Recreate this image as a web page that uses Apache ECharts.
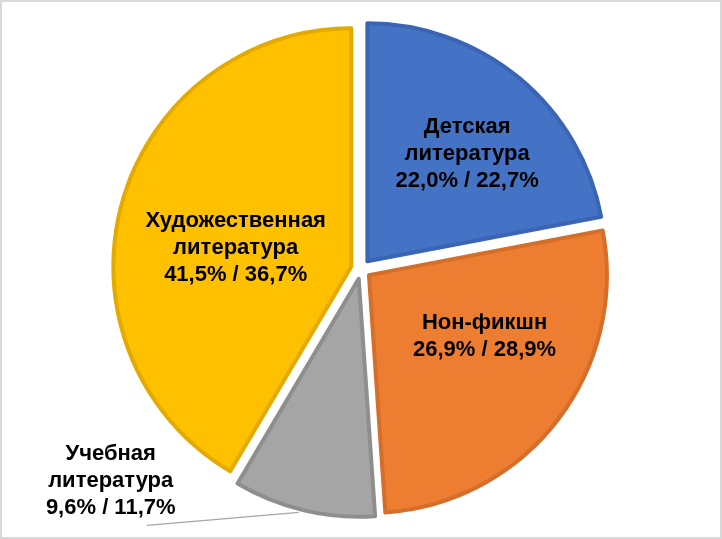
<!DOCTYPE html>
<html>
<head>
<meta charset="utf-8">
<script src="https://cdn.jsdelivr.net/npm/echarts@6/dist/echarts.min.js"></script>
<style>
html,body{margin:0;padding:0;background:#fff;}
#chart{width:722px;height:539px;}
</style>
</head>
<body>
<div id="chart"></div>
<script>
// Data
var categories = ['Детская литература', 'Нон-фикшн', 'Учебная литература', 'Художественная литература'];
var labelNames = ['Детская\nлитература', 'Нон-фикшн', 'Учебная\nлитература', 'Художественная\nлитература'];
var shareA = [22.0, 26.9, 9.6, 41.5];
var shareB = [22.7, 28.9, 11.7, 36.7];

// Styles
var fillColors = ['#4472C4', '#ED7D31', '#A5A5A5', '#FFC000'];
var borderColors = ['#3A65B4', '#D56E28', '#8E8E8E', '#E3AA00'];
var insidePadding = [[0, 0, 0, 44], [0, 0, 0, 38], null, [0, 0, 0, 4]];
var spacerLine = ['after', 'after', null, 'before'];

function fmt(v) { return v.toFixed(1).replace('.', ','); }

var chart = echarts.init(document.getElementById('chart'), null, {renderer: 'canvas'});

var data = categories.map(function (c, i) {
  var style = { color: fillColors[i], borderColor: borderColors[i], borderWidth: 4 };
  var item = {
    name: c,
    value: shareA[i],
    selected: true,
    itemStyle: style,
    select: { itemStyle: style },
    emphasis: { itemStyle: style }
  };
  var text = labelNames[i] + '\n' + fmt(shareA[i]) + '% / ' + fmt(shareB[i]) + '%';
  if (i === 2) {
    var lines = text.split('\n').map(function (l) { return '{a|' + l + '}'; }).join('\n');
    item.label = {
      position: 'outside',
      formatter: lines,
      padding: [0, 0, 68, 0],
      rich: { a: { width: 130, align: 'center', fontSize: 22, fontWeight: 'bold', lineHeight: 27, color: '#000', fontFamily: 'Liberation Sans, Arial, sans-serif' } }
    };
    item.labelLine = { show: true, length: 5, length2: 122, smooth: false, lineStyle: { color: '#A6A6A6', width: 1.2 } };
  } else {
    if (spacerLine[i] === 'after') text = text + '\n ';
    else if (spacerLine[i] === 'before') text = ' \n' + text;
    item.label = { position: 'inside', formatter: text, padding: insidePadding[i] };
    item.labelLine = { show: false };
  }
  return item;
});

chart.setOption({
  animation: false,
  backgroundColor: '#ffffff',
  graphic: [{
    type: 'rect',
    shape: { x: 1, y: 1, width: 720, height: 537 },
    style: { fill: 'none', stroke: '#D9D9D9', lineWidth: 2 },
    silent: true
  }],
  series: [{
    type: 'pie',
    center: [361, 269],
    radius: [0, 238],
    startAngle: 90,
    clockwise: true,
    selectedMode: 'multiple',
    selectedOffset: 10,
    avoidLabelOverlap: false,
    label: {
      color: '#000',
      fontSize: 22,
      fontWeight: 'bold',
      lineHeight: 27,
      fontFamily: 'Liberation Sans, Arial, sans-serif'
    },
    labelLayout: function (params) {
      if (params.dataIndex === 2 && params.labelLinePoints) {
        var p0 = params.labelLinePoints[0];
        return { labelLinePoints: [[p0[0] - 5, p0[1] + 2], [p0[0] - 157, p0[1] + 15]] };
      }
      return {};
    },
    emphasis: { disabled: true },
    data: data
  }]
});
</script>
</body>
</html>
